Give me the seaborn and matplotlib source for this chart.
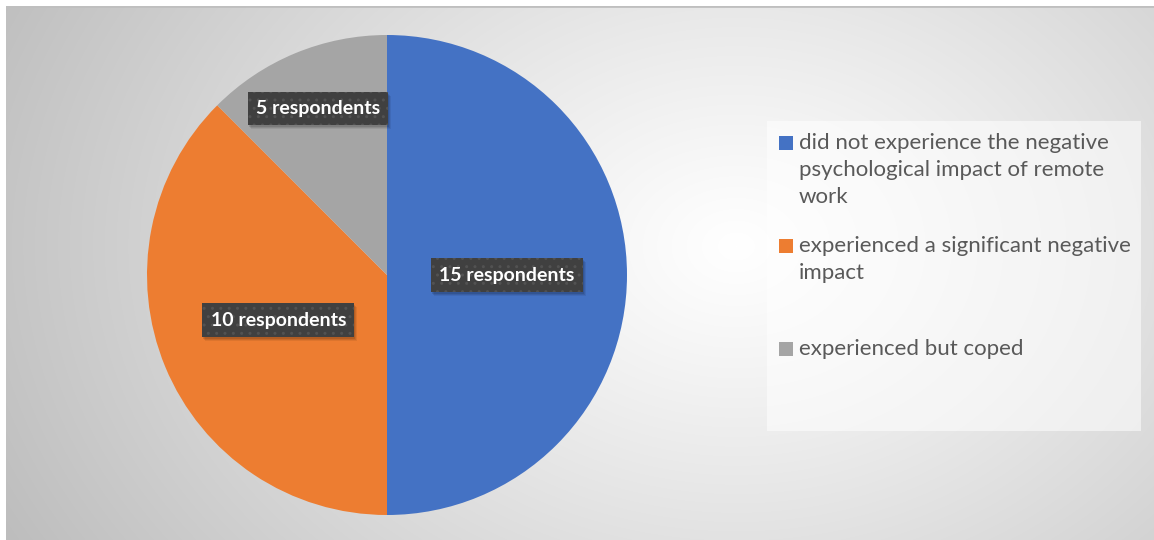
import numpy as np
import matplotlib
matplotlib.use("Agg")
import matplotlib.pyplot as plt
from matplotlib.patches import Rectangle
from matplotlib.transforms import IdentityTransform
import seaborn as sns

# ---- data ----
categories = [
    "did not experience the negative\npsychological impact of remote\nwork",
    "experienced a significant negative\nimpact",
    "experienced but coped",
]
shares = [50.0, 37.5, 12.5]          # wedge sizes as drawn (%)
value_labels = ["15 respondents", "10 respondents", "5 respondents"]
colors = ["#4472C4", "#ED7D31", "#A5A5A5"]
label_dist = [0.50, 0.49, 0.75]

sns.set_theme(style="white")
plt.rcParams["font.family"] = ["Lato", "DejaVu Sans"]

W, H = 1154, 540
fig = plt.figure(figsize=(W / 100, H / 100), dpi=100)
fig.patch.set_facecolor("white")

# background gradient
bg = fig.add_axes([6 / W, 0, 1 - 6 / W, 1 - 6 / H], zorder=0)
yy, xx = np.mgrid[0:534, 0:1148]
cx, cy = 730, 240
d = np.sqrt(((xx - cx) / 1.0) ** 2 + ((yy - cy) / 0.75) ** 2)
d = d / d.max()
val = 255 - 66 * d ** 1.1
img = np.dstack([val, val, val]) / 255.0
bg.imshow(img, aspect="auto", extent=[0, 1, 0, 1], origin="upper")
bg.axhline(1, color="#bfbfbf", lw=2)
bg.set_axis_off()

# pie
R = 240
cxp, cyp = 387, 275
ax = fig.add_axes([(cxp - R) / W, (H - cyp - R) / H, 2 * R / W, 2 * R / H], zorder=2)
wedges, _ = ax.pie(shares, colors=colors, startangle=90, counterclock=False,
                   radius=1, wedgeprops=dict(linewidth=0))
ax.set_xlim(-1, 1)
ax.set_ylim(-1, 1)
ax.set_aspect("equal")
ax.set_axis_off()

texts = []
for w, lab, r in zip(wedges, value_labels, label_dist):
    ang = np.deg2rad((w.theta1 + w.theta2) / 2)
    x, y = r * np.cos(ang), r * np.sin(ang)
    t = ax.annotate(lab, (x, y), ha="center", va="center", fontsize=14,
                    fontweight="bold", color="white",
                    bbox=dict(boxstyle="square,pad=0.42", fc="#404040",
                              ec="#525252", lw=0, hatch=".."),
                    zorder=5)
    texts.append(t)

# soft shadows behind label boxes (inside the pie axes, under the labels)
fig.canvas.draw()
for t in texts:
    bb = t.get_bbox_patch().get_window_extent()
    for k, a in [(4, 0.07), (3, 0.09), (2, 0.11)]:
        ax.add_patch(Rectangle((bb.x0 + k - 1, bb.y0 - k), bb.width, bb.height,
                               transform=IdentityTransform(), facecolor="black",
                               alpha=a, lw=0, zorder=3, clip_on=False))

# legend box
lg = fig.add_axes([767 / W, (H - 431) / H, (1141 - 767) / W, (431 - 121) / H], zorder=1)
lg.add_patch(Rectangle((0, 0), 1, 1, transform=lg.transAxes,
                       facecolor="white", alpha=0.55, lw=0))
lg.set_xlim(0, 1)
lg.set_ylim(0, 1)
lg.set_axis_off()

for i, (c, lab) in enumerate(zip(colors, categories)):
    ypx = 143 + i * 103
    fig.patches.append(Rectangle((779 / W, (H - ypx - 7) / H), 14 / W, 14 / H,
                                 transform=fig.transFigure, facecolor=c,
                                 lw=0, zorder=5))
    fig.text(799 / W, (H - ypx + 10) / H, lab, ha="left", va="top",
             fontsize=16, color="#595959", linespacing=1.44, zorder=5)

fig.savefig("out.png", dpi=100)
